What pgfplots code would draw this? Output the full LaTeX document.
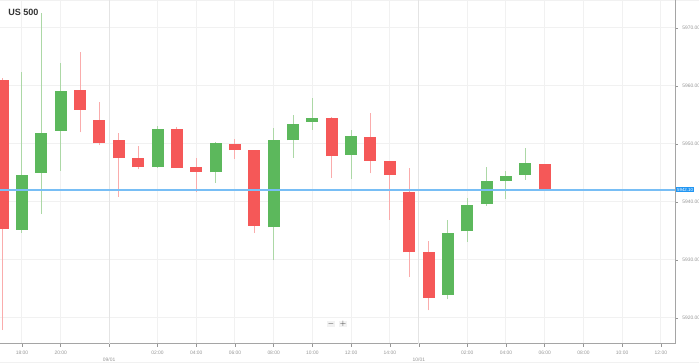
\documentclass[border=0pt]{standalone}
\usepackage{fontspec}
\setmainfont{Liberation Sans}
\usepackage{pgfplots}
\pgfplotsset{compat=1.18}
\definecolor{cred}{RGB}{245,88,88}
\definecolor{cgreen}{RGB}{92,184,92}
\definecolor{wred}{RGB}{250,172,172}
\definecolor{wgreen}{RGB}{172,216,166}
\definecolor{lblue}{RGB}{33,150,243}
\definecolor{pblue}{RGB}{120,190,245}
\definecolor{gridc}{RGB}{241,241,241}
\definecolor{dayc}{RGB}{228,228,228}
\definecolor{axc}{RGB}{165,165,165}
\definecolor{tickc}{RGB}{150,150,150}
\definecolor{titc}{RGB}{51,51,51}
\pgfplotsset{candle/.style 2 args={draw=none, no marks, forget plot, error bars/.cd, y dir=plus, y explicit, error mark=none, error bar style={draw=#1, line width=#2}}}
\begin{document}
\begin{tikzpicture}
\useasboundingbox (0,-14.25pt) rectangle (524.25pt,258pt);
\draw[gridc, line width=0.75pt] (0,-13.6pt) -- (524.25pt,-13.6pt);
\draw[gridc, line width=0.75pt] (0,257.6pt) -- (524.25pt,257.6pt);
\begin{axis}[
  scale only axis, width=506.25pt, height=258pt,
  at={(0,0)}, anchor=south west,
  xmin=-0.136, xmax=34.73, ymin=5915.5, ymax=5974.8,
  axis x line*=bottom, axis y line*=right,
  axis line style={axc, line width=0.75pt, -},
  xtick={1,3,8,10,12,14,16,18,20,24,26,28,30,32,34},
  xticklabels={18:00,20:00,02:00,04:00,06:00,08:00,10:00,12:00,14:00,02:00,04:00,06:00,08:00,10:00,12:00},
  extra x ticks={5.5,21.5},
  extra x tick labels={09/01,10/01},
  extra x tick style={major grid style={dayc, line width=0.75pt}, tick label style={yshift=-5pt}},
  ytick={5920,5930,5940,5950,5960,5970},
  scaled y ticks=false,
  y tick label style={/pgf/number format/.cd, fixed, fixed zerofill, precision=2, 1000 sep={}},
  /pgf/number format/assume math mode=true,
  tick label style={font=\fontsize{3.7}{4}\selectfont, text=tickc},
  tick style={tickc, line width=0.5pt},
  major tick length=2pt,
  tick align=outside,
  grid=major,
  major grid style={gridc, line width=0.75pt},
  clip mode=individual,
]
% red wicks
\addplot[candle={wred}{0.75pt}] coordinates {
 (0,5917.9) +- (0,43.5)
 (4,5952.0) +- (0,13.9)
 (5,5949.8) +- (0,7.4)
 (6,5940.9) +- (0,10.9)
 (7,5945.6) +- (0,4.1)
 (9,5945.8) +- (0,7.1)
 (10,5941.7) +- (0,5.8)
 (12,5947.4) +- (0,3.4)
 (13,5934.6) +- (0,14.4)
 (17,5944.1) +- (0,10.5)
 (19,5944.9) +- (0,10.5)
 (20,5936.9) +- (0,10.1)
 (21,5927.1) +- (0,18.7)
 (22,5921.3) +- (0,11.9)
};
% green wicks
\addplot[candle={wgreen}{0.75pt}] coordinates {
 (1,5934.7) +- (0,27.7)
 (2,5937.9) +- (0,34.7)
 (3,5945.4) +- (0,18.5)
 (8,5945.9) +- (0,7.2)
 (11,5943.3) +- (0,7.1)
 (14,5930.0) +- (0,22.8)
 (15,5947.6) +- (0,7.3)
 (16,5952.4) +- (0,5.5)
 (18,5944.0) +- (0,8.4)
 (23,5923.2) +- (0,13.6)
 (24,5933.1) +- (0,7.5)
 (25,5939.3) +- (0,6.7)
 (26,5940.5) +- (0,4.8)
 (27,5943.8) +- (0,5.5)
};
% red bodies
\addplot[candle={cred}{9pt}] coordinates {
 (0,5935.3) +- (0,25.7)
 (4,5955.9) +- (0,3.4)
 (5,5950.1) +- (0,4.0)
 (6,5947.5) +- (0,3.1)
 (7,5946.0) +- (0,1.5)
 (9,5945.8) +- (0,6.7)
 (10,5945.2) +- (0,0.8)
 (12,5948.9) +- (0,1.1)
 (13,5935.9) +- (0,13.1)
 (17,5947.9) +- (0,6.5)
 (19,5947.1) +- (0,4.1)
 (20,5944.7) +- (0,2.3)
 (21,5931.3) +- (0,10.4)
 (22,5923.4) +- (0,7.9)
 (28,5942.1) +- (0,4.4)
};
% green bodies
\addplot[candle={cgreen}{9pt}] coordinates {
 (1,5935.2) +- (0,9.5)
 (2,5945.0) +- (0,6.9)
 (3,5952.3) +- (0,6.8)
 (8,5946.0) +- (0,6.6)
 (11,5945.1) +- (0,5.0)
 (14,5935.6) +- (0,15.0)
 (15,5950.6) +- (0,2.8)
 (16,5953.8) +- (0,0.6)
 (18,5948.1) +- (0,3.3)
 (23,5924.0) +- (0,10.7)
 (24,5934.9) +- (0,4.6)
 (25,5939.7) +- (0,3.9)
 (26,5943.6) +- (0,0.9)
 (27,5944.7) +- (0,2.0)
};
% current price line
\addplot[pblue, line width=1.5pt, mark=none, forget plot] coordinates {(-0.136,5942.1) (34.73,5942.1)};
\node[fill=lblue, text=white, font=\fontsize{3.3}{4}\selectfont, inner xsep=1pt, inner ysep=0.9pt, anchor=west, xshift=0.4pt] at (axis cs:34.73,5942.1) {5942.10};
% zoom buttons
\node[fill=gray!10, text=titc, font=\bfseries\fontsize{5}{5}\selectfont, minimum width=6.5pt, minimum height=5pt, inner sep=0pt] at (axis cs:16.96,5918.97) {$-$};
\node[fill=gray!10, text=titc, font=\bfseries\fontsize{5}{5}\selectfont, minimum width=6.5pt, minimum height=5pt, inner sep=0pt] at (axis cs:17.58,5918.97) {$+$};
\end{axis}
\node[anchor=west, inner sep=0pt, font=\bfseries\fontsize{6.8}{8}\selectfont, text=titc] at (6pt,249pt) {US 500};
\end{tikzpicture}
\end{document}
